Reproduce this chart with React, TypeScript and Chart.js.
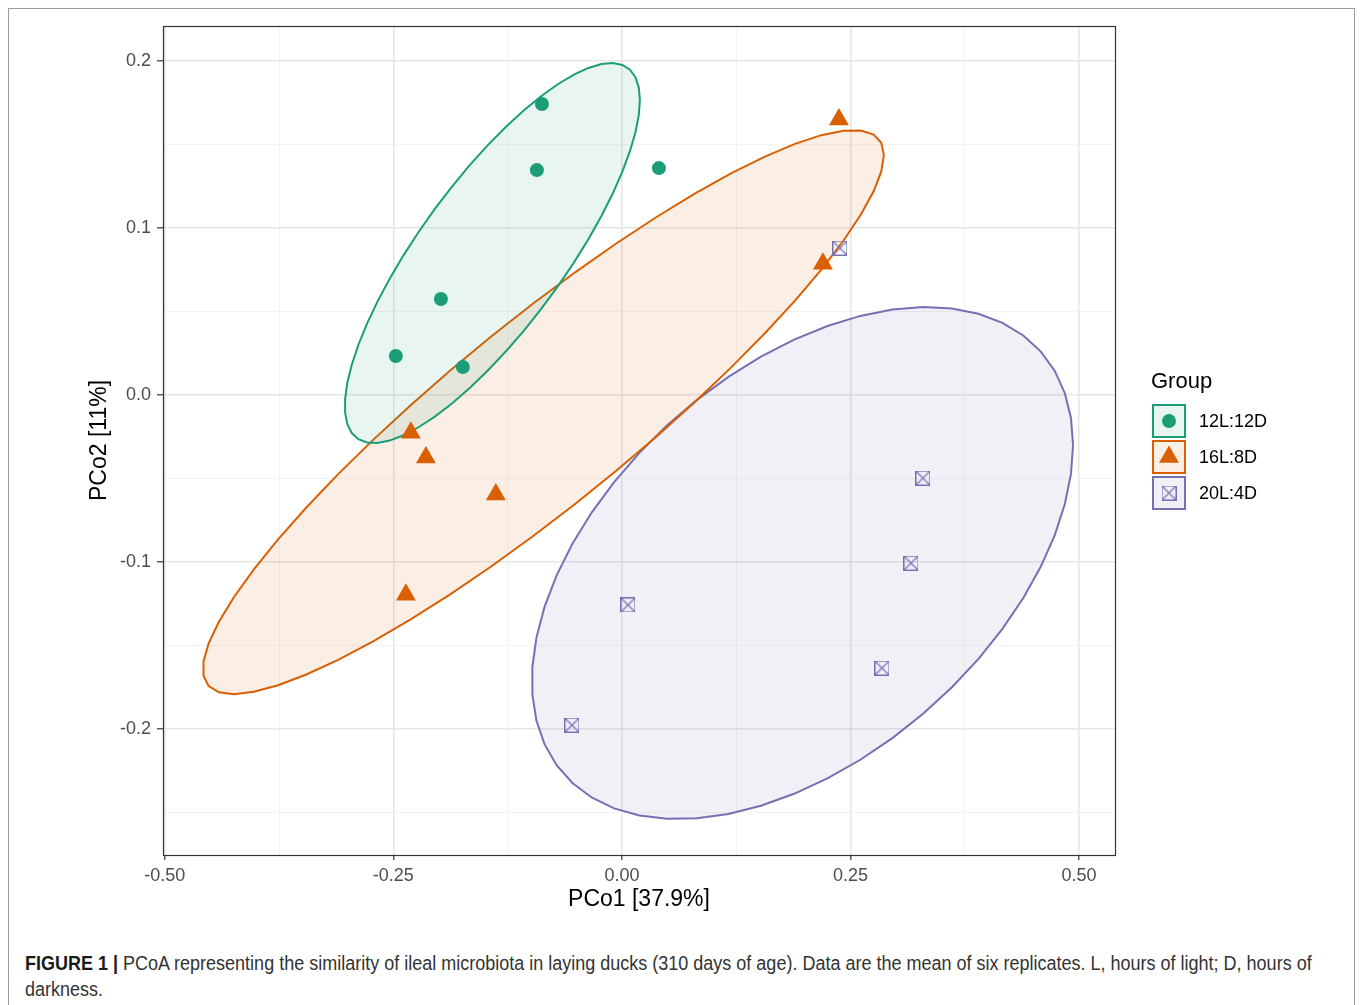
import React, { useEffect, useRef } from "react";
import { Chart, registerables } from "chart.js";
Chart.register(...registerables);

const groupNames = ["12L:12D", "16L:8D", "20L:4D"];
const groupColors = ["#1b9e77", "#d95f02", "#7570b3"];
const groupFills = ["rgba(27,158,119,0.1)", "rgba(217,95,2,0.1)", "rgba(117,112,179,0.1)"];

const pco1_12L = [-0.0875, -0.093, 0.0405, -0.198, -0.2473, -0.174];
const pco2_12L = [0.1743, 0.1347, 0.1359, 0.0575, 0.0234, 0.0168];

const pco1_16L = [0.2374, 0.2199, -0.2309, -0.2144, -0.1379, -0.2363];
const pco2_16L = [0.165, 0.0787, -0.0225, -0.0374, -0.0596, -0.1195];

const pco1_20L = [0.2385, 0.3293, 0.3162, 0.0066, 0.2845, -0.0547];
const pco2_20L = [0.088, -0.0497, -0.1006, -0.1257, -0.1635, -0.1976];

// 95% ellipse descriptors per group: centre, half-extent along each axis, correlation
const ellipseCentreX = [-0.1417, -0.0859, 0.1975];
const ellipseCentreY = [0.085, -0.0102, -0.1006];
const ellipseHalfX = [0.1614, 0.3725, 0.296];
const ellipseHalfY = [0.1138, 0.1689, 0.1533];
const ellipseCorr = [0.805, 0.911, 0.461];
const ellipseSegments = 51;

const xMajorTicks = [-0.5, -0.25, 0, 0.25, 0.5];
const xTickLabels = ["-0.50", "-0.25", "0.00", "0.25", "0.50"];
const xMinorTicks = [-0.375, -0.125, 0.125, 0.375];
const yMajorTicks = [-0.2, -0.1, 0, 0.1, 0.2];
const yTickLabels = ["-0.2", "-0.1", "0.0", "0.1", "0.2"];
const yMinorTicks = [-0.25, -0.15, -0.05, 0.05, 0.15];

const xTitle = "PCo1 [37.9%]";
const yTitle = "PCo2 [11%]";
const legendTitle = "Group";

const FONT = '"Liberation Sans", Arial, Helvetica, sans-serif';

function ellipsePoints(i: number) {
  const phi = Math.acos(ellipseCorr[i]);
  const pts: { x: number; y: number }[] = [];
  for (let k = 0; k <= ellipseSegments; k++) {
    const a = (2 * Math.PI * k) / ellipseSegments;
    pts.push({
      x: ellipseCentreX[i] + ellipseHalfX[i] * Math.cos(a),
      y: ellipseCentreY[i] + ellipseHalfY[i] * Math.cos(a - phi),
    });
  }
  return pts;
}

function makeSquareCross(color: string, size: number) {
  const c = document.createElement("canvas");
  c.width = size;
  c.height = size;
  const g = c.getContext("2d")!;
  g.strokeStyle = color;
  g.lineWidth = 1.2;
  g.strokeRect(0.5, 0.5, size - 1, size - 1);
  g.beginPath();
  g.moveTo(0.5, 0.5);
  g.lineTo(size - 0.5, size - 0.5);
  g.moveTo(size - 0.5, 0.5);
  g.lineTo(0.5, size - 0.5);
  g.stroke();
  return c;
}

function isMajor(v: number, majors: number[]) {
  return majors.some((m) => Math.abs(m - v) < 1e-9);
}

export default function App() {
  const ref = useRef<HTMLCanvasElement>(null);

  useEffect(() => {
    const canvas = ref.current!;
    const sqx = makeSquareCross(groupColors[2], 15);
    const pointStyles: any[] = ["circle", "triangle", sqx];
    const pointRadii = [7, 11.5, 7.5];
    const xs = [pco1_12L, pco1_16L, pco1_20L];
    const ys = [pco2_12L, pco2_16L, pco2_20L];

    const datasets: any[] = [];
    for (let i = 0; i < 3; i++) {
      datasets.push({
        label: groupNames[i] + " ellipse",
        data: ellipsePoints(i),
        showLine: true,
        borderColor: groupColors[i],
        backgroundColor: groupFills[i],
        borderWidth: 2,
        pointRadius: 0,
        tension: 0,
        fill: "shape",
        order: 2,
      });
    }
    for (let i = 0; i < 3; i++) {
      datasets.push({
        label: groupNames[i],
        data: xs[i].map((x, j) => ({ x, y: ys[i][j] })),
        showLine: false,
        pointStyle: pointStyles[i],
        pointRadius: pointRadii[i],
        backgroundColor: groupColors[i],
        borderColor: groupColors[i],
        borderWidth: 0,
        order: 0,
      });
    }

    const panelPlugin = {
      id: "panel",
      afterDatasetsDraw(chart: any) {
        const { ctx, chartArea } = chart;
        ctx.save();
        ctx.strokeStyle = "#333333";
        ctx.lineWidth = 1.2;
        ctx.strokeRect(
          Math.round(chartArea.left) + 0.5,
          Math.round(chartArea.top) + 0.5,
          Math.round(chartArea.right - chartArea.left),
          Math.round(chartArea.bottom - chartArea.top)
        );
        ctx.restore();
      },
      afterDraw(chart: any) {
        const { ctx } = chart;
        ctx.save();
        ctx.fillStyle = "#000";
        ctx.font = `22px ${FONT}`;
        ctx.textBaseline = "middle";
        ctx.textAlign = "left";
        ctx.fillText(legendTitle, 1142, 373);
        const boxX = 1143;
        const boxTops = [395, 431, 467];
        const box = 34;
        for (let i = 0; i < 3; i++) {
          const top = boxTops[i];
          ctx.fillStyle = groupFills[i];
          ctx.fillRect(boxX, top, box, box);
          ctx.strokeStyle = groupColors[i];
          ctx.lineWidth = 2;
          ctx.strokeRect(boxX + 1, top + 1, box - 2, box - 2);
          const cx = boxX + box / 2;
          const cy = top + box / 2;
          ctx.fillStyle = groupColors[i];
          if (i === 0) {
            ctx.beginPath();
            ctx.arc(cx, cy, 7, 0, Math.PI * 2);
            ctx.fill();
          } else if (i === 1) {
            const r = 11.5;
            ctx.beginPath();
            ctx.moveTo(cx, cy - r);
            ctx.lineTo(cx + r * Math.sin((2 * Math.PI) / 3), cy - r * Math.cos((2 * Math.PI) / 3));
            ctx.lineTo(cx + r * Math.sin((4 * Math.PI) / 3), cy - r * Math.cos((4 * Math.PI) / 3));
            ctx.closePath();
            ctx.fill();
          } else {
            ctx.drawImage(sqx, cx - 7.5, cy - 7.5);
          }
          ctx.fillStyle = "#000";
          ctx.font = `18px ${FONT}`;
          ctx.fillText(groupNames[i], 1190, cy + 1);
        }
        ctx.restore();
      },
    };

    const gridColor = (majors: number[]) => (c: any) =>
      c.tick && isMajor(c.tick.value, majors) ? "#e6e6e6" : "#f2f2f2";
    const gridWidth = (majors: number[]) => (c: any) =>
      c.tick && isMajor(c.tick.value, majors) ? 1.6 : 0.9;
    const tickColor = (majors: number[]) => (c: any) =>
      c.tick && isMajor(c.tick.value, majors) ? "#333333" : "rgba(0,0,0,0)";

    const chart = new Chart(canvas, {
      type: "scatter",
      data: { datasets },
      plugins: [panelPlugin],
      options: {
        animation: false,
        responsive: false,
        layout: { padding: { top: 17, right: 239, bottom: 0, left: 0 } },
        plugins: { legend: { display: false }, tooltip: { enabled: false } },
        scales: {
          x: {
            type: "linear",
            min: -0.502,
            max: 0.5394,
            afterBuildTicks: (s: any) => {
              s.ticks = [...xMajorTicks, ...xMinorTicks].sort((a, b) => a - b).map((v) => ({ value: v }));
            },
            afterFit: (s: any) => {
              s.height = 79;
            },
            border: { display: false },
            grid: {
              color: gridColor(xMajorTicks),
              lineWidth: gridWidth(xMajorTicks),
              tickColor: tickColor(xMajorTicks),
              tickLength: 5,
              tickWidth: 1.2,
            },
            ticks: {
              autoSkip: false,
              maxRotation: 0,
              padding: 5,
              color: "#4d4d4d",
              font: { family: FONT, size: 18 },
              callback: (v: any) => {
                const idx = xMajorTicks.findIndex((m) => Math.abs(m - v) < 1e-9);
                return idx >= 0 ? xTickLabels[idx] : "";
              },
            },
            title: {
              display: true,
              text: xTitle,
              color: "#000",
              font: { family: FONT, size: 23 },
              padding: { top: 0, bottom: 21 },
            },
          },
          y: {
            type: "linear",
            min: -0.2754,
            max: 0.221,
            afterBuildTicks: (s: any) => {
              s.ticks = [...yMajorTicks, ...yMinorTicks].sort((a, b) => a - b).map((v) => ({ value: v }));
            },
            afterFit: (s: any) => {
              s.width = 154;
            },
            border: { display: false },
            grid: {
              color: gridColor(yMajorTicks),
              lineWidth: gridWidth(yMajorTicks),
              tickColor: tickColor(yMajorTicks),
              tickLength: 6,
              tickWidth: 1.2,
            },
            ticks: {
              autoSkip: false,
              padding: 6,
              color: "#4d4d4d",
              font: { family: FONT, size: 18 },
              callback: (v: any) => {
                const idx = yMajorTicks.findIndex((m) => Math.abs(m - v) < 1e-9);
                return idx >= 0 ? yTickLabels[idx] : "";
              },
            },
            title: {
              display: true,
              text: yTitle,
              color: "#000",
              font: { family: FONT, size: 23 },
              padding: { top: 77, bottom: 0 },
            },
          },
        },
      } as any,
    });
    return () => chart.destroy();
  }, []);

  return (
    <div
      style={{
        border: "1px solid #9a9a9a",
        borderBottom: "none",
        width: 1345,
        height: 996,
        position: "relative",
        boxSizing: "content-box",
        overflow: "hidden",
      }}
    >
      <canvas ref={ref} width={1345} height={925} style={{ display: "block", width: 1345, height: 925 }} />
      <div
        style={{
          position: "absolute",
          left: 16,
          top: 941,
          fontFamily: '"Liberation Sans", Arial, sans-serif',
          fontSize: 20,
          lineHeight: "26px",
          color: "#333",
          whiteSpace: "nowrap",
          transform: "scaleX(0.9)",
          transformOrigin: "0 0",
        }}
      >
        <span style={{ fontWeight: "bold", color: "#1a1a1a" }}>FIGURE 1 |</span> PCoA representing the
        similarity of ileal microbiota in laying ducks (310 days of age). Data are the mean of six replicates. L,
        hours of light; D, hours of
        <br />
        darkness.
      </div>
    </div>
  );
}
